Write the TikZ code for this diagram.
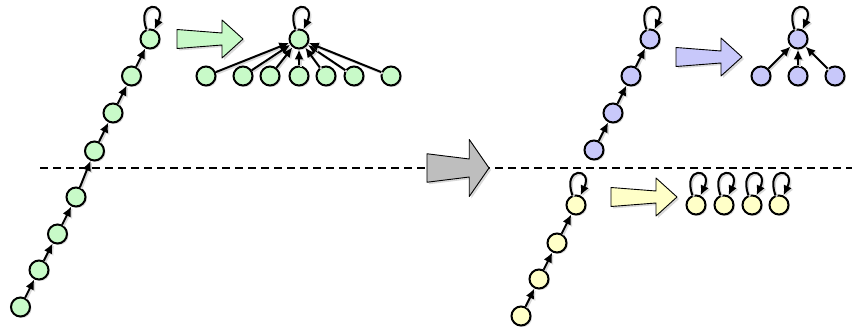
\documentclass[tikz,border=0pt]{standalone}
\usepackage{tikz}
\usetikzlibrary{arrows.meta, shadows}

\definecolor{mintgreen}{RGB}{200,250,200}
\definecolor{lavender}{RGB}{200,200,250}
\definecolor{cream}{RGB}{255,255,200}
\definecolor{arrowgrey}{RGB}{190,190,190}

\tikzset{
  vert/.style={circle, draw, line width=2pt, minimum size=19pt, inner sep=0pt,
    drop shadow={shadow xshift=1.5pt, shadow yshift=-1.5pt, opacity=0.3}},
  link/.style={line width=2pt, -{Latex[length=10pt,width=9pt]},
    preaction={draw=black!15, line width=2pt, transform canvas={xshift=1.5pt, yshift=-1.5pt}}},
  selfloop/.style={link, out=110, in=65, min distance=31pt},
  cut/.style={line width=1.4pt, dash pattern=on 8pt off 5pt},
  pics/fatarrow/.style={code={
    \draw[fill=#1, line width=0.9pt, line join=round,
      drop shadow={shadow xshift=2pt, shadow yshift=-2pt, opacity=0.3}]
      (-66,9.5) -- (-21,6) -- (-21,19) -- (0,0) -- (-21,-19) -- (-21,-6) -- (-66,-9.5) -- cycle;
  }}
}

\begin{document}
\begin{tikzpicture}[x=1pt, y=1pt]
    \useasboundingbox (0,0) rectangle (852,330);

    % cut line
    \coordinate (cutL) at (40,162);
    \coordinate (cutR) at (852,162);
    \draw[cut] (cutL) -- (cutR);

    % long chain
    \foreach \i/\x/\y in {1/20.5/23, 2/39/60, 3/57.5/96, 4/76/133, 5/94.5/179, 6/113/217, 7/131.5/254, 8/150/291}
        \node[vert, fill=mintgreen] (g\i) at (\x,\y) {};
    \foreach \i [count=\j from 2] in {1,...,7}
        \draw[link] (g\i) -- (g\j);
    \draw[selfloop] (g8) to (g8);

    % flattened
    \pic at (243,291) {fatarrow=mintgreen};
    \node[vert, fill=mintgreen] (gr) at (299,291) {};
    \foreach \i/\x in {1/206, 2/243, 3/270, 4/299, 5/326, 6/354, 7/391}
        \node[vert, fill=mintgreen] (gl\i) at (\x,254) {};
    \foreach \i in {1,...,7}
        \draw[link] (gl\i) -- (gr);
    \draw[selfloop] (gr) to (gr);

    % split
    \pic[xscale=0.94, yscale=1.5] at (489,162) {fatarrow=arrowgrey};

    % upper part
    \foreach \i/\x/\y in {1/594/180, 2/613/217, 3/631/254, 4/650/291}
        \node[vert, fill=lavender] (b\i) at (\x,\y) {};
    \foreach \i [count=\j from 2] in {1,...,3}
        \draw[link] (b\i) -- (b\j);
    \draw[selfloop] (b4) to (b4);

    \pic at (742,273) {fatarrow=lavender};
    \node[vert, fill=lavender] (br) at (798,291) {};
    \foreach \i/\x in {1/761, 2/798, 3/835}
        \node[vert, fill=lavender] (bl\i) at (\x,254) {};
    \foreach \i in {1,...,3}
        \draw[link] (bl\i) -- (br);
    \draw[selfloop] (br) to (br);

    % lower part
    \foreach \i/\x/\y in {1/521/14, 2/539/51, 3/557/87, 4/576/125}
        \node[vert, fill=cream] (y\i) at (\x,\y) {};
    \foreach \i [count=\j from 2] in {1,...,3}
        \draw[link] (y\i) -- (y\j);
    \draw[selfloop] (y4) to (y4);

    \pic at (677,133) {fatarrow=cream};
    \foreach \i/\x in {1/696, 2/724, 3/752, 4/779} {
        \node[vert, fill=cream] (s\i) at (\x,125) {};
        \draw[selfloop] (s\i) to (s\i);
    }
\end{tikzpicture}
\end{document}
